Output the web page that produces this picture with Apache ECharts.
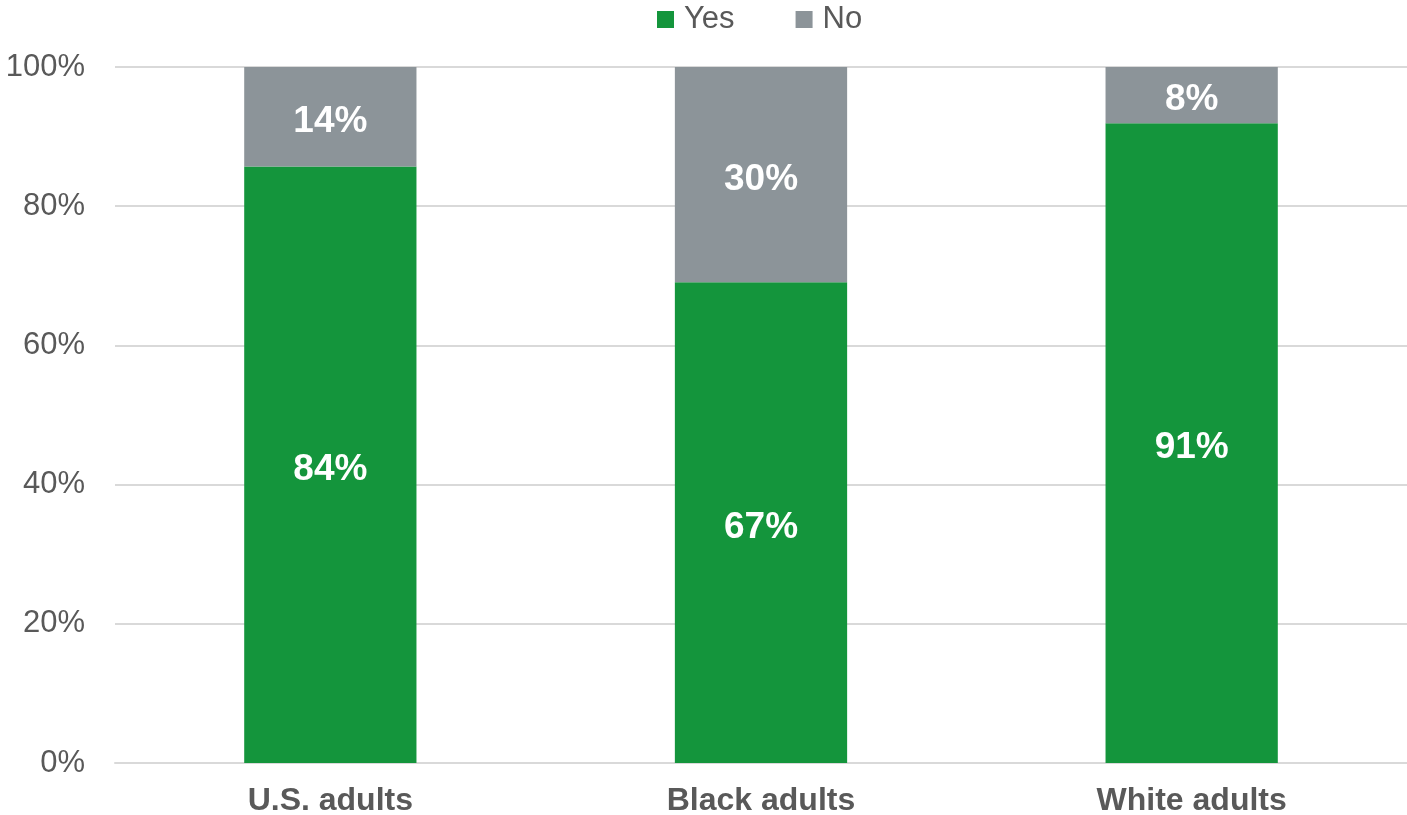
<!DOCTYPE html>
<html><head><meta charset="utf-8">
<script src="https://cdn.jsdelivr.net/npm/echarts@6/dist/echarts.min.js"></script>
<style>html,body{margin:0;padding:0;background:#fff}#c{width:1407px;height:815px}</style>
</head><body><div id="c"></div>
<script>
const categories = ['U.S. adults', 'Black adults', 'White adults'];
const yesValues = [84, 67, 91];
const noValues = [14, 30, 8];
const yTicks = [0, 20, 40, 60, 80, 100];

const totals = yesValues.map((v, i) => v + noValues[i]);
const yesShare = yesValues.map((v, i) => ({ value: v / totals[i] * 100, raw: v }));
const noShare = noValues.map((v, i) => ({ value: v / totals[i] * 100, raw: v }));

const font = "'Liberation Sans', Arial, sans-serif";
const chart = echarts.init(document.getElementById('c'));
const lbl = {
  show: true, position: 'inside', offset: [0, 5], color: '#fff', fontFamily: font, fontSize: 37, fontWeight: 'bold',
  formatter: p => p.data.raw + '%'
};
chart.setOption({
  animation: false,
  legend: {
    top: -1, left: 652, itemWidth: 17, itemHeight: 17, itemGap: 61,
    icon: 'rect',
    textStyle: { fontFamily: font, fontSize: 31, color: '#595959', padding: [0, 0, 0, 5] },
    data: ['Yes', 'No']
  },
  grid: { left: 115, right: 0, top: 67, bottom: 52, containLabel: false, outerBoundsMode: 'none' },
  xAxis: {
    type: 'category', data: categories,
    axisLine: { show: true, lineStyle: { color: '#d9d9d9', width: 2 } },
    axisTick: { show: false },
    axisLabel: { fontFamily: font, fontSize: 32, fontWeight: 'bold', color: '#595959', margin: 22 }
  },
  yAxis: {
    type: 'value', min: 0, max: 100, interval: 20,
    axisLine: { show: false }, axisTick: { show: false },
    splitLine: { lineStyle: { color: '#d9d9d9', width: 2 } },
    axisLabel: { fontFamily: font, fontSize: 31, color: '#595959', margin: 30,
      formatter: v => yTicks.includes(v) ? v + '%' : '' }
  },
  series: [
    { name: 'Yes', type: 'bar', stack: 'a', barWidth: '40%', data: yesShare,
      itemStyle: { color: '#14953C' }, label: lbl },
    { name: 'No', type: 'bar', stack: 'a', barWidth: '40%', data: noShare,
      itemStyle: { color: '#8C9499' }, label: lbl }
  ]
});
</script></body></html>
